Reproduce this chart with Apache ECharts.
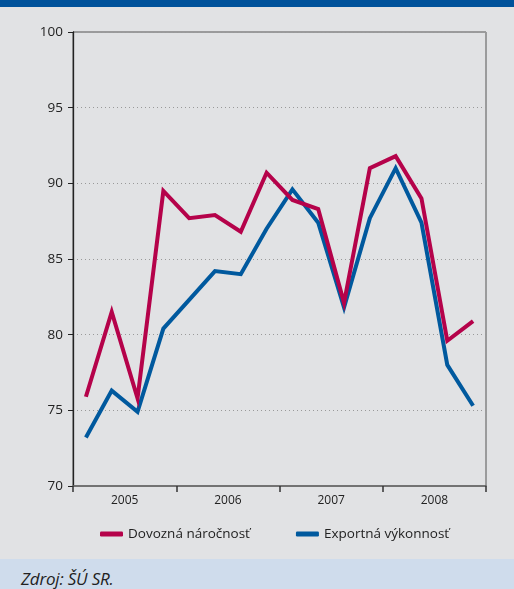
<!DOCTYPE html>
<html>
<head>
<meta charset="utf-8">
<script src="https://cdn.jsdelivr.net/npm/echarts@6/dist/echarts.min.js"></script>
<style>
  html, body { margin: 0; padding: 0; }
  body { width: 514px; height: 589px; background: #e1e2e4; position: relative; overflow: hidden; }
  #top { position: absolute; left: 0; top: 0; width: 514px; height: 7px; background: #00529b; }
  #chart { position: absolute; left: 0; top: 7px; width: 514px; height: 552px; }
  #source { position: absolute; left: 0; top: 559px; width: 514px; height: 30px; background: #cfdcec;
    font-family: "Open Sans", "Noto Sans", sans-serif; font-style: italic; font-size: 17px; color: #222; }
  #source span { position: absolute; left: 21px; top: 8px; letter-spacing: -0.2px; }
</style>
</head>
<body>
<div id="top"></div>
<div id="chart"></div>
<div id="source"><span>Zdroj: ŠÚ SR.</span></div>
<script>
// štvrťroky 2005 - 2008
const quarters = ['2005Q1', '2005Q2', '2005Q3', '2005Q4', '2006Q1', '2006Q2', '2006Q3', '2006Q4',
  '2007Q1', '2007Q2', '2007Q3', '2007Q4', '2008Q1', '2008Q2', '2008Q3', '2008Q4']
const years = ['2005', '2006', '2007', '2008']
const dovozna = [75.9, 81.5, 75.8, 89.5, 87.7, 87.9, 86.8, 90.7, 88.9, 88.3, 82.1, 91.0, 91.8, 89.0, 79.6, 80.9]
const exportna = [73.2, 76.3, 74.9, 80.4, 82.3, 84.2, 84.0, 87.0, 89.6, 87.4, 81.8, 87.7, 91.0, 87.4, 78.0, 75.3]

const chart = echarts.init(document.getElementById('chart'))
const font = '"Open Sans", "Noto Sans", sans-serif'

chart.setOption({
  animation: false,
  textStyle: { fontFamily: font },
  grid: {
    left: 73, top: 25, width: 413, height: 454,
    show: true, borderColor: '#555', borderWidth: 1, backgroundColor: 'transparent'
  },
  legend: {
    left: 95, top: 515,
    itemWidth: 23, itemHeight: 5, itemGap: 46,
    icon: 'roundRect',
    textStyle: { fontSize: 13.5, color: '#222', fontFamily: font },
    data: ['Dovozná náročnosť', 'Exportná výkonnosť']
  },
  xAxis: [
    {
      type: 'category',
      data: quarters,
      boundaryGap: true,
      axisLine: { show: false },
      axisTick: { show: false },
      axisLabel: { show: false }
    },
    {
      type: 'category',
      data: years,
      position: 'bottom',
      boundaryGap: true,
      axisLine: { show: true, lineStyle: { color: '#666', width: 1.5 } },
      axisTick: { show: true, length: 6, lineStyle: { color: '#333', width: 1.5 } },
      axisLabel: { fontSize: 12, color: '#222', margin: 9, fontFamily: font }
    }
  ],
  yAxis: {
    type: 'value',
    min: 70, max: 100, interval: 5,
    axisLine: { show: true, lineStyle: { color: '#222', width: 1.3 } },
    axisTick: { show: true, length: 5, lineStyle: { color: '#222' } },
    axisLabel: { fontSize: 13.5, color: '#222', margin: 10, fontFamily: font },
    splitLine: { show: true, lineStyle: { color: '#999', type: [1, 3], width: 1 } }
  },
  series: [
    {
      name: 'Dovozná náročnosť',
      type: 'line',
      xAxisIndex: 0,
      data: dovozna,
      symbol: 'none',
      color: '#b5024a',
      lineStyle: { width: 4, color: '#b5024a', join: 'miter' },
      z: 3
    },
    {
      name: 'Exportná výkonnosť',
      type: 'line',
      xAxisIndex: 0,
      data: exportna,
      symbol: 'none',
      color: '#00599e',
      lineStyle: { width: 4, color: '#00599e', join: 'miter' },
      z: 2
    }
  ]
})
</script>
</body>
</html>
